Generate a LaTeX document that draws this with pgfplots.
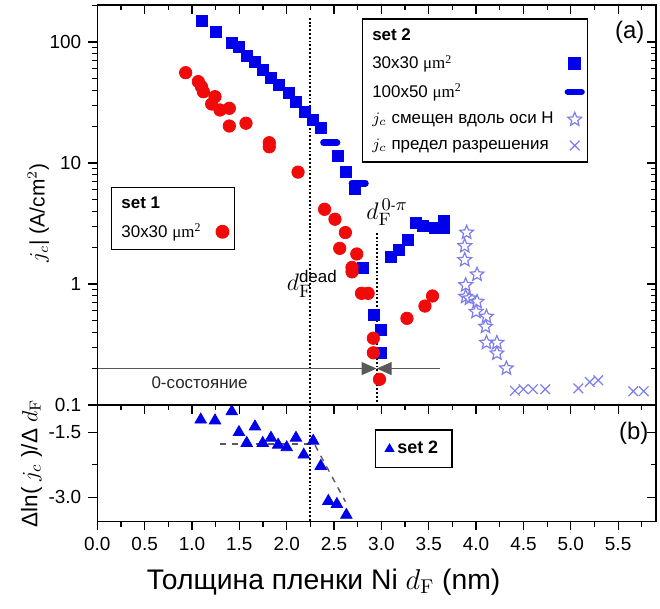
\documentclass[border=0pt]{standalone}
\usepackage[no-math]{fontspec}
\setmainfont{Liberation Sans}
\newfontfamily\serif{Liberation Serif}
\usepackage{pgfplots}
\pgfplotsset{compat=1.18}
\usetikzlibrary{arrows.meta,calc}
\definecolor{sqblue}{RGB}{0,0,235}
\definecolor{cred}{RGB}{240,10,10}
\definecolor{lblue}{RGB}{125,125,235}
\pgfdeclareplotmark{ostar}{%
 \pgfpathmoveto{\pgfpointpolar{90}{\pgfplotmarksize}}%
 \pgfpathlineto{\pgfpointpolar{126}{0.45\pgfplotmarksize}}%
 \pgfpathlineto{\pgfpointpolar{162}{\pgfplotmarksize}}%
 \pgfpathlineto{\pgfpointpolar{198}{0.45\pgfplotmarksize}}%
 \pgfpathlineto{\pgfpointpolar{234}{\pgfplotmarksize}}%
 \pgfpathlineto{\pgfpointpolar{270}{0.45\pgfplotmarksize}}%
 \pgfpathlineto{\pgfpointpolar{306}{\pgfplotmarksize}}%
 \pgfpathlineto{\pgfpointpolar{342}{0.45\pgfplotmarksize}}%
 \pgfpathlineto{\pgfpointpolar{18}{\pgfplotmarksize}}%
 \pgfpathlineto{\pgfpointpolar{54}{0.45\pgfplotmarksize}}%
 \pgfpathclose\pgfusepathqstroke}
\pgfplotsset{
 panel/.style={scale only axis, width=279.35bp, xmin=0, xmax=5.9,
   /pgf/number format/assume math mode=true,
   axis line style={line width=0.75bp},
   every tick/.style={black, line width=0.6bp},
   major tick length=4.5bp, minor tick length=2.6bp,
   tick label style={font=\fontsize{9.5}{10}\selectfont},
   xtick={0,0.5,...,5.5}, minor xtick={0.25,0.75,...,5.75}},
 leg/.style={legend style={draw=black, line width=0.75bp, font=\fontsize{8.5}{10}\selectfont,
   legend cell align=left, inner xsep=3bp, inner ysep=2.8bp, row sep=2bp}},
}
\begin{document}
\begin{tikzpicture}
% ---------------- top panel ----------------
\begin{axis}[name=top, panel, height=200bp, ymode=log, ymin=0.1, ymax=202,
  ytick={0.1,1,10,100},
  minor ytick={0.2,0.3,0.4,0.5,0.6,0.7,0.8,0.9,2,3,4,5,6,7,8,9,20,30,40,50,60,70,80,90,200},
  tick align=outside, xtick pos=bottom, ytick pos=left,
  xticklabels={}, yticklabels={0.1,1,10,100},
  ylabel={$j_c$| (A/cm$^2$)},
  ylabel style={at={(ticklabel cs:0.48)}, yshift=-6.5bp, font=\fontsize{10.5}{12}\selectfont},
  leg, legend plot pos=right,
  legend style={at={(rel axis cs:0.473,0.967)}, anchor=north west}]
\addlegendimage{empty legend}
\addlegendentry{\textbf{set 2}}
\addplot[only marks, mark=square*, mark size=2.75bp, color=sqblue] coordinates {
(1.10,148)(1.25,122)(1.42,99)(1.50,91)(1.58,76)(1.665,69)(1.75,59)(1.83,50)(1.92,44)
(2.02,38)(2.10,32)(2.19,26.6)(2.275,22.6)(2.36,19.6)(2.54,11.4)(2.63,8.4)(2.72,6.1)
(2.81,1.37)(2.92,0.555)(3.00,0.42)(3.00,0.27)(3.10,1.68)(3.19,1.92)(3.28,2.3)(3.36,3.2)
(3.44,3.0)(3.56,2.9)(3.66,3.3)(3.66,2.9)};
\addlegendentry{30x30 {\serif μm\textsuperscript{2}}}
\addplot[only marks, mark=-, mark size=3.4bp, color=sqblue, mark options={line width=3.3bp, line cap=round}] coordinates {
(2.46,14.7)(2.76,6.8)};
\addlegendentry{100x50 {\serif μm\textsuperscript{2}}}
\addplot[only marks, mark=ostar, mark size=3.6bp, color=lblue, mark options={line width=0.6bp}] coordinates {
(3.90,2.66)(3.88,2.06)(3.88,1.58)(4.01,1.20)(3.89,0.98)(3.89,0.785)(3.93,0.76)(4.01,0.714)
(4.00,0.59)(4.11,0.537)(4.10,0.444)(4.11,0.327)(4.22,0.327)(4.22,0.267)(4.32,0.201)};
\addlegendentry{$j_c$ смещен вдоль оси H}
\addplot[only marks, mark=x, mark size=3.4bp, color=lblue, mark options={line width=0.6bp}] coordinates {
(4.41,0.131)(4.50,0.135)(4.60,0.135)(4.73,0.135)(5.08,0.137)(5.20,0.155)(5.29,0.16)(5.66,0.13)(5.77,0.13)};
\addlegendentry{$j_c$ предел разрешения}
\draw[densely dotted, line width=0.9bp] (2.25,158) -- (2.25,0.1);
\draw[densely dotted, line width=0.9bp] (2.95,2.64) -- (2.95,0.1);
\draw[black!65, line width=0.6bp, -{Triangle[length=7.5bp,width=6.5bp]}] (0,0.2) -- (2.95,0.2);
\draw[black!65, line width=0.6bp, -{Triangle[length=7.5bp,width=6.5bp]}] (3.62,0.2) -- (2.95,0.2);
\node[font=\fontsize{8.5}{10}\selectfont, text=black!85] at (1.08,0.153) {0-состояние};
\node[font=\fontsize{13}{13}\selectfont] at (2.27,1.0) {$d^{\hbox{\fontsize{8.5}{9}\selectfont dead}}_{\mathrm{F}}$};
\node[font=\fontsize{13}{13}\selectfont] at (3.06,3.9) {$d^{\,0\hbox{\fontsize{7}{7}\selectfont -}\pi}_{\mathrm{F}}$};
\node[font=\fontsize{12}{12}\selectfont] at (rel axis cs:0.953,0.932) {(a)};
\end{axis}
% overlay for top panel: inward ticks + set 1
\begin{axis}[at={(top.south west)}, anchor=south west, panel, height=200bp, ymode=log, ymin=0.1, ymax=202,
  ytick={0.1,1,10,100},
  minor ytick={0.2,0.3,0.4,0.5,0.6,0.7,0.8,0.9,2,3,4,5,6,7,8,9,20,30,40,50,60,70,80,90,200},
  tick align=inside,
  xtick pos=top, ytick pos=right, xticklabels={}, yticklabels={},
  leg, legend plot pos=right,
  legend style={at={(rel axis cs:0.024,0.546)}, anchor=north west}]
\addlegendimage{empty legend}
\addlegendentry{\textbf{set 1}}
\addplot[only marks, mark=*, mark size=3.1bp, color=cred] coordinates {
(0.933,55.7)(1.067,47)(1.10,42.7)(1.12,38.8)(1.243,35.3)(1.208,30.7)(1.296,27.4)(1.394,28.3)
(1.394,20.2)(1.57,21.3)(1.816,14.7)(1.816,13.6)(2.12,8.4)(2.40,4.14)(2.51,3.43)(2.62,2.66)
(2.56,1.97)(2.74,1.77)(2.69,1.37)(2.69,1.26)(2.79,0.837)(2.86,0.837)(2.915,0.356)(2.915,0.27)
(2.98,0.163)(3.27,0.52)(3.46,0.657)(3.54,0.796)};
\addlegendentry{30x30 {\serif μm\textsuperscript{2}}}
\end{axis}
% ---------------- bottom panel ----------------
\begin{axis}[name=bot, at={(top.south west)}, anchor=north west, panel, height=58.25bp,
  ymin=-3.56, ymax=-0.87, ytick={-3,-1.5}, minor ytick={-2.25},
  tick align=outside, xtick pos=bottom, ytick pos=left,
  xticklabel style={/pgf/number format/.cd, fixed, fixed zerofill, precision=1},
  yticklabel style={/pgf/number format/.cd, fixed, fixed zerofill, precision=1},
  xlabel={Толщина пленки Ni $d_{\mathrm{F}}$ (nm)},
  xlabel style={at={(ticklabel cs:0.405)}, font=\fontsize{14.2}{15}\selectfont, yshift=-2bp},
  ylabel={Δln( $j_c$ )/Δ $d_{\mathrm{F}}$},
  ylabel style={font=\fontsize{11.3}{12}\selectfont, yshift=-3.5bp},
  leg, legend style={at={(rel axis cs:0.497,0.79)}, anchor=north west, font=\fontsize{9}{10}\selectfont\bfseries,
    inner xsep=5bp, inner ysep=3.5bp},
  legend image post style={mark size=2.2bp}]
\addplot[only marks, mark=triangle*, mark size=3.3bp, color=sqblue] coordinates {
(1.092,-1.21)(1.243,-1.23)(1.42,-1.02)(1.496,-1.50)(1.578,-1.75)(1.665,-1.37)(1.747,-1.75)
(1.834,-1.63)(1.91,-1.79)(2.0,-1.85)(2.098,-1.63)(2.18,-2.02)(2.28,-1.70)(2.36,-2.28)
(2.44,-3.09)(2.53,-3.16)(2.63,-3.41)};
\addlegendentry{set 2}
\draw[dashed, black!65, line width=0.7bp] (1.3,-1.77) -- (2.28,-1.77);
\draw[dashed, black!65, line width=0.7bp] (2.3,-1.8) -- (2.62,-3.1);
\draw[densely dotted, line width=0.9bp] (2.25,-0.87) -- (2.25,-3.56);
\node[font=\fontsize{12}{12}\selectfont] at (rel axis cs:0.96,0.76) {(b)};
\end{axis}
\begin{axis}[at={(bot.south west)}, anchor=south west, panel, height=58.25bp,
  ymin=-3.56, ymax=-0.87, ytick={-3,-1.5}, minor ytick={-2.25}, xtick=\empty, minor xtick={},
  tick align=inside, ytick pos=right, yticklabels={}]
\end{axis}
\pgfresetboundingbox
\path ($(top.north west)+(-48.65bp,2.5bp)$) rectangle ++(330bp,-304.5bp);
\end{tikzpicture}
\end{document}
